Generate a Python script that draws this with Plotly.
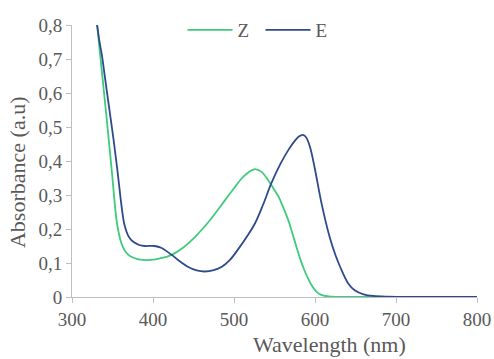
import plotly.graph_objects as go

# Z isomer spectrum
z_wl = [331, 337, 343, 349, 355, 358, 361, 366, 372, 382, 398, 410, 423, 437, 452, 470,
        489, 500, 510, 518, 526, 534, 542, 548, 555, 561, 567, 572, 577, 582, 587, 592,
        597, 602, 607, 612, 620, 640, 700, 800]
z_abs = [0.80, 0.66, 0.52, 0.374, 0.226, 0.185, 0.158, 0.133, 0.12, 0.111, 0.109, 0.114, 0.124, 0.145, 0.177, 0.225,
         0.285, 0.32, 0.35, 0.367, 0.376, 0.368, 0.344, 0.322, 0.295, 0.262, 0.226, 0.188, 0.148, 0.11, 0.078, 0.052,
         0.03, 0.015, 0.007, 0.003, 0.001, 0.0, 0.0, 0.0]

# E isomer spectrum
e_wl = [331, 334, 337, 341, 348, 352, 356, 360, 363, 365, 369, 373, 377, 383, 390, 402, 410, 423, 433, 443,
        454, 464, 475, 485, 495, 505, 516, 526, 536, 546, 557, 567, 576, 580, 585, 589, 594, 600, 608, 618,
        625, 631, 641, 649, 660, 672, 690, 800]
e_abs = [0.80, 0.75, 0.71, 0.64, 0.52, 0.45, 0.374, 0.29, 0.235, 0.21, 0.182, 0.168, 0.16, 0.153, 0.15, 0.15, 0.145, 0.124, 0.105, 0.089,
         0.078, 0.075, 0.079, 0.089, 0.109, 0.14, 0.178, 0.217, 0.272, 0.334, 0.39, 0.432, 0.462, 0.472, 0.477, 0.47, 0.44, 0.375, 0.276, 0.177,
         0.125, 0.089, 0.04, 0.02, 0.008, 0.003, 0.001, 0.0]

x_ticks = [300, 400, 500, 600, 700, 800]
y_ticks = [0, 0.1, 0.2, 0.3, 0.4, 0.5, 0.6, 0.7, 0.8]
y_tick_labels = ["0", "0,1", "0,2", "0,3", "0,4", "0,5", "0,6", "0,7", "0,8"]

GREEN = "#3ecb7b"
BLUE = "#2f4a8c"
FONT = "Liberation Serif, Times New Roman, serif"
GREY = "#595959"

W, H = 494, 359

fig = go.Figure()
fig.add_trace(go.Scatter(x=z_wl, y=z_abs, name="Z", mode="lines",
                         line=dict(color=GREEN, width=1.8, shape="spline", smoothing=1.0)))
fig.add_trace(go.Scatter(x=e_wl, y=e_abs, name="E", mode="lines",
                         line=dict(color=BLUE, width=1.8, shape="spline", smoothing=1.0)))

axis_common = dict(showline=True, linecolor="#bfbfbf", linewidth=1, ticks="outside",
                   tickcolor="#bfbfbf", ticklen=5, showgrid=False, zeroline=False,
                   automargin=False,
                   tickfont=dict(family=FONT, size=19, color=GREY))

fig.update_layout(
    width=W, height=H,
    margin=dict(l=72, r=17, t=25, b=62, autoexpand=False),
    paper_bgcolor="white", plot_bgcolor="white",
    font=dict(family=FONT, color=GREY),
    showlegend=True,
    legend=dict(orientation="h", xref="container", yref="container",
                x=0.3694, xanchor="left", y=1 - 30 / H, yanchor="middle",
                font=dict(family=FONT, size=19, color=GREY), itemwidth=45,
                entrywidth=18, entrywidthmode="pixels",
                bgcolor="rgba(0,0,0,0)", tracegroupgap=0, itemclick=False),
    xaxis=dict(range=[300, 800], tickvals=x_ticks, **axis_common),
    yaxis=dict(range=[0, 0.8], tickvals=y_ticks, ticktext=y_tick_labels, **axis_common),
    annotations=[
        dict(text="Wavelength (nm)", xref="paper", yref="paper", x=0.635, y=-0.173,
             xanchor="center", yanchor="middle", showarrow=False,
             font=dict(family=FONT, size=22, color=GREY)),
        dict(text="Absorbance (a.u)", xref="paper", yref="paper", x=-0.133, y=0.46,
             xanchor="center", yanchor="middle", showarrow=False, textangle=-90,
             font=dict(family=FONT, size=22, color=GREY)),
    ],
)

# remove the browser's default 8px body margin so the figure fills the window exactly
fig.write_html("out.html", config={"displayModeBar": False},
               post_script="document.body.style.margin='0';")
